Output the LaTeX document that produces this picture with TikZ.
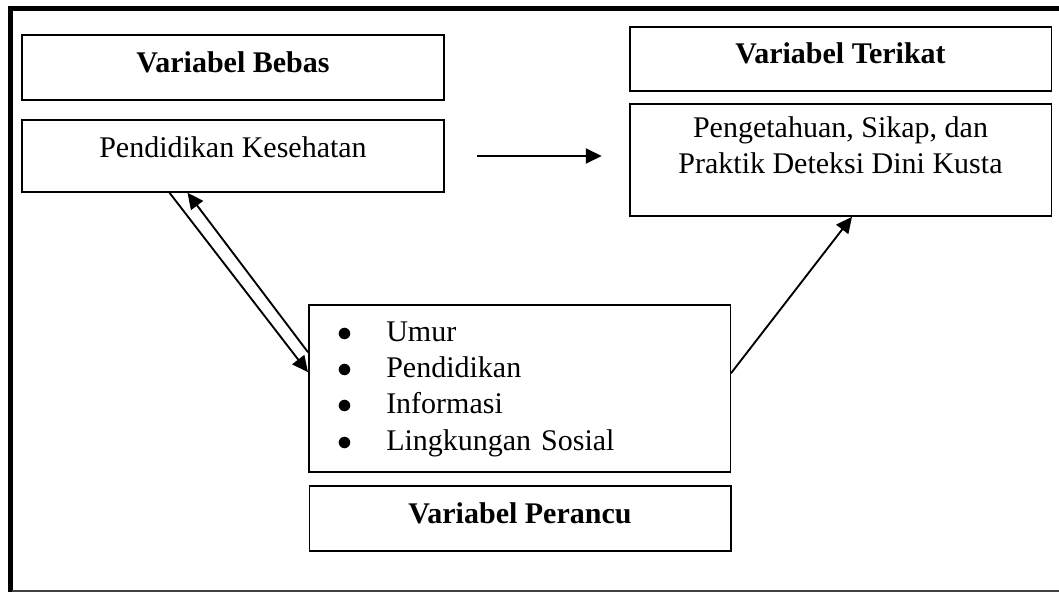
\documentclass[tikz,border=0pt]{standalone}
\usepackage{fontspec}
\setmainfont{Liberation Serif}
\usetikzlibrary{arrows.meta,calc}

\begin{document}
\begin{tikzpicture}[x=0.4pt,y=-0.4pt,
    box/.style={draw,line width=0.6pt,inner sep=0pt,minimum width=168.6pt,
                font=\fontsize{12}{14.5}\selectfont,align=center},
    title/.style={box,minimum height=26pt,text depth=4.5pt,font=\fontsize{12}{14.5}\selectfont\bfseries},
    arr/.style={line width=0.75pt,-{Triangle[length=6.4pt,width=6pt]}}]
    \useasboundingbox (0,0) rectangle (1059,592);
    % frame
    \draw[line width=2pt] (1059,8.5) -- (10,8.5) -- (10,592);
    \draw[line width=0.5pt,black!75] (12,591) -- (1059,591);

    \node[title] (bebas) at (233,67.5) {Variabel Bebas};
    \node[box,minimum height=28.8pt,text depth=7.4pt] (pendkes) at (233,156) {Pendidikan Kesehatan};
    \node[title,minimum height=25.6pt] (terikat) at (840.5,59) {Variabel Terikat};
    \node[box,minimum height=44.8pt,text depth=11.7pt] (outcome) at (840.5,160)
      {Pengetahuan, Sikap, dan\\Praktik Deteksi Dini Kusta};
    \node[box,minimum height=66.8pt,text width=146pt,inner xsep=11.3pt,align=left] (faktor) at (519.5,388.5)
      {\begin{tabular}{@{}l@{\hspace{13.7pt}}l@{}}
        $\bullet$ & Umur\\
        $\bullet$ & Pendidikan\\
        $\bullet$ & Informasi\\
        $\bullet$ & Lingkungan Sosial
      \end{tabular}};
    \node[title] (perancu) at (520,518.5) {Variabel Perancu};

    \draw[arr,shorten <=13.1pt,shorten >=10.9pt] (pendkes.east) -- (pendkes.east -| outcome.west);
    \draw[arr] ($(pendkes.south west)+(148,0)$) -- ($(faktor.north west)+(0,68)$);
    \draw[arr] ($(faktor.north west)+(0,48)$) -- ($(pendkes.south west)+(166,0)$);
    \draw[arr] ($(faktor.north east)+(0,69)$) -- ($(outcome.south)+(11.5,0)$);
  \end{tikzpicture}
\end{document}
